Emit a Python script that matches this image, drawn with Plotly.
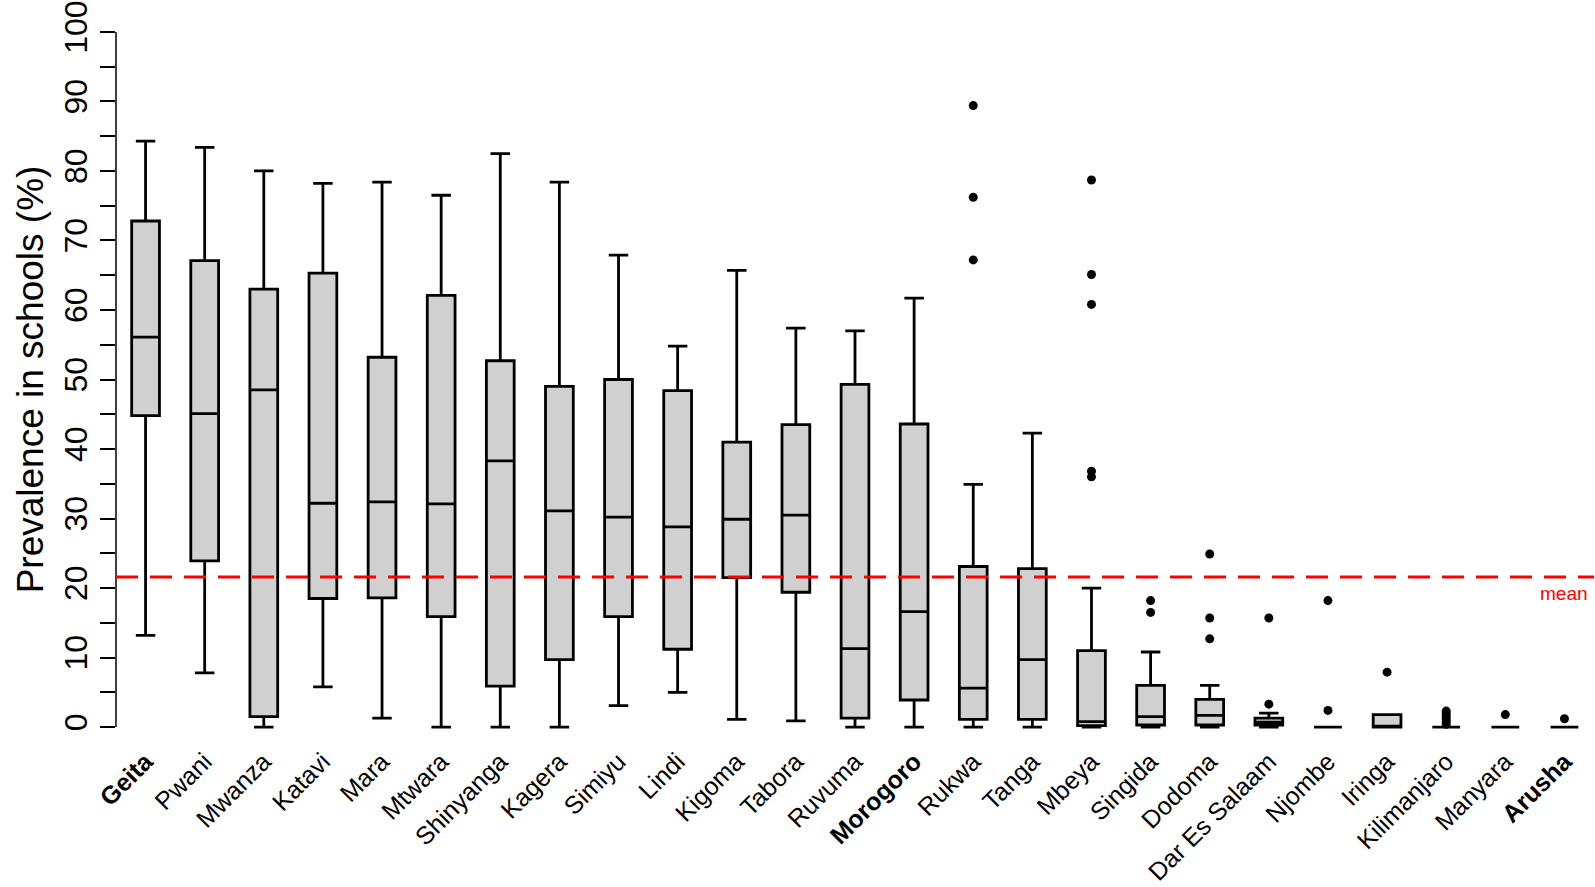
import plotly.graph_objects as go

categories = ["Geita", "Pwani", "Mwanza", "Katavi", "Mara", "Mtwara", "Shinyanga",
              "Kagera", "Simiyu", "Lindi", "Kigoma", "Tabora", "Ruvuma", "Morogoro",
              "Rukwa", "Tanga", "Mbeya", "Singida", "Dodoma", "Dar Es Salaam",
              "Njombe", "Iringa", "Kilimanjaro", "Manyara", "Arusha"]
bold_categories = ["Geita", "Morogoro", "Arusha"]

lower_whisker = [13.2, 7.8, 0.0, 5.8, 1.3, 0.0, 0.0, 0.0, 3.1, 5.0, 1.1, 0.9, 0.0, 0.0,
                 0.0, 0.0, 0.0, 0.0, 0.0, 0.0, 0.0, 0.0, 0.0, 0.0, 0.0]
q1 = [44.8, 23.9, 1.5, 18.5, 18.6, 15.9, 5.9, 9.7, 15.9, 11.2, 21.5, 19.4, 1.3, 3.9,
      1.1, 1.1, 0.2, 0.3, 0.3, 0.3, 0.0, 0.0, 0.0, 0.0, 0.0]
median = [56.1, 45.1, 48.5, 32.2, 32.4, 32.1, 38.3, 31.1, 30.2, 28.8, 29.9, 30.5, 11.3, 16.6,
          5.6, 9.7, 0.8, 1.5, 1.7, 0.7, 0.0, 0.0, 0.0, 0.0, 0.0]
q3 = [72.8, 67.1, 63.0, 65.3, 53.2, 62.1, 52.7, 49.0, 50.0, 48.4, 41.0, 43.5, 49.3, 43.6,
      23.1, 22.8, 11.0, 6.0, 4.0, 1.3, 0.0, 1.8, 0.0, 0.0, 0.0]
upper_whisker = [84.3, 83.4, 80.0, 78.2, 78.4, 76.5, 82.5, 78.4, 67.9, 54.8, 65.7, 57.4, 57.0, 61.7,
                 34.9, 42.3, 20.0, 10.8, 6.0, 2.0, 0.0, 1.8, 0.0, 0.0, 0.0]

outlier_region = ["Rukwa", "Rukwa", "Rukwa",
                  "Mbeya", "Mbeya", "Mbeya", "Mbeya", "Mbeya",
                  "Singida", "Singida",
                  "Dodoma", "Dodoma", "Dodoma",
                  "Dar Es Salaam", "Dar Es Salaam",
                  "Njombe", "Njombe",
                  "Iringa",
                  "Kilimanjaro", "Kilimanjaro", "Kilimanjaro", "Kilimanjaro", "Kilimanjaro", "Kilimanjaro",
                  "Manyara", "Arusha"]
outlier_value = [89.4, 76.2, 67.2,
                 78.7, 65.1, 60.8, 36.8, 36.0,
                 18.2, 16.5,
                 24.9, 15.7, 12.7,
                 15.7, 3.3,
                 18.2, 2.4,
                 7.9,
                 0.4, 0.8, 1.2, 1.6, 2.0, 2.3,
                 1.8, 1.2]

mean_value = 21.6

tick_text = ["<b>%s</b>" % c if c in bold_categories else c for c in categories]

fig = go.Figure()
fig.add_trace(go.Box(
    x=categories, q1=q1, median=median, q3=q3,
    lowerfence=lower_whisker, upperfence=upper_whisker,
    fillcolor="#d0d0d0", line=dict(color="black", width=2.8),
    whiskerwidth=0.7, width=0.47, boxpoints=False, showlegend=False,
))
fig.add_trace(go.Scatter(
    x=outlier_region, y=outlier_value, mode="markers",
    marker=dict(color="black", size=9), showlegend=False, cliponaxis=False,
))

fig.add_shape(type="line", xref="paper", yref="y", x0=0, x1=0, y0=0, y1=100,
              line=dict(color="black", width=1.5))
fig.add_shape(type="line", xref="paper", yref="y", x0=0, x1=1, y0=mean_value, y1=mean_value,
              line=dict(color="#ff0000", width=3, dash="22px,12px"), layer="above")
fig.add_annotation(xref="paper", yref="y", x=1, y=mean_value, text="mean",
                   showarrow=False, xanchor="right", yanchor="top", yshift=-4, xshift=-4,
                   font=dict(color="#ff0000", size=19, family="Liberation Sans, Arial"))

fig.update_layout(
    width=1595, height=887,
    margin=dict(l=116, r=1, t=18, b=134),
    paper_bgcolor="white", plot_bgcolor="white",
    font=dict(family="Liberation Sans, Arial", color="black"),
    xaxis=dict(type="category", categoryorder="array", categoryarray=categories,
               range=[-0.5, 24.5], tickvals=categories, ticktext=tick_text,
               tickangle=-45, tickfont=dict(size=25), showgrid=False, showline=False,
               zeroline=False, ticks=""),
    yaxis=dict(range=[-2, 102], dtick=10, tick0=0, ticks="outside", ticklen=15,
               tickwidth=1.5, tickcolor="black", tickangle=-90, tickfont=dict(size=32),
               ticklabeloverflow="allow",
               showgrid=False, zeroline=False, showline=False,
               minor=dict(dtick=5, ticks="outside", ticklen=15, tickwidth=1.5,
                          tickcolor="black", showgrid=False),
               title=dict(text="Prevalence in schools (%)", font=dict(size=37), standoff=3)),
)

fig.write_html("out.html", config={"displayModeBar": False},
               post_script="document.body.style.margin='0';document.body.style.overflow='hidden';")
